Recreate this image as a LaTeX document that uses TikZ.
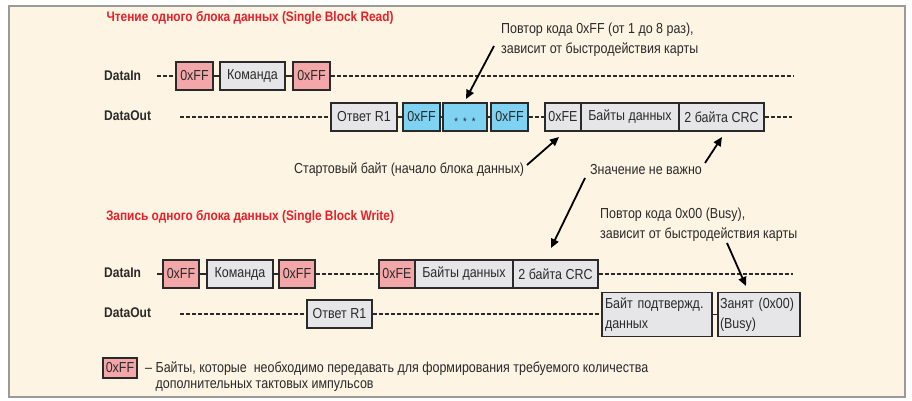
\documentclass[tikz,border=0pt]{standalone}
\usepackage{fontspec}
\setmainfont{Liberation Sans}[FakeStretch=0.86]
\usetikzlibrary{arrows.meta}
\definecolor{cream}{HTML}{FDF4E3}
\definecolor{framegray}{HTML}{9A9A9A}
\definecolor{pinkbox}{HTML}{F4A7A8}
\definecolor{graybox}{HTML}{E6E6E8}
\definecolor{bluebox}{HTML}{7FD2F2}
\definecolor{boxline}{HTML}{2A2A2A}
\definecolor{txt}{HTML}{2A2A2A}
\definecolor{titlered}{HTML}{E8202A}
\tikzset{
  bx/.style={draw=boxline, line width=1.8pt, minimum height=28pt, inner sep=0pt, text=txt,
    font=\fontsize{14.5}{16}\selectfont},
  pk/.style={bx, fill=pinkbox},
  gr/.style={bx, fill=graybox},
  bl/.style={bx, fill=bluebox},
  dl/.style={draw=boxline, line width=1.5pt, dash pattern=on 3.8pt off 2.2pt},
  sl/.style={draw=boxline, line width=1.5pt},
  lbl/.style={anchor=west, text=txt, font=\bfseries\fontsize{14}{16}\selectfont, inner sep=0pt},
  ttl/.style={text=titlered, font=\bfseries\fontsize{13.8}{16}\selectfont, inner sep=0pt},
  note/.style={text=txt, font=\fontsize{14.5}{20}\selectfont, inner sep=0pt, align=left},
  arr/.style={draw=black, line width=1.8pt, -{Triangle[length=9pt,width=8pt]}},
}
\begin{document}
\begin{tikzpicture}[x=1pt,y=-1pt]
\useasboundingbox (0,0) rectangle (912,401);
\fill[white] (0,0) rectangle (912,401);
\draw[framegray, line width=2pt, fill=cream] (9,6) rectangle (905,397);

% titles
\node[ttl] (t1) at (250,18) {Чтение одного блока данных (Single Block Read)};
\node[ttl] (t2) at (250,217) {Запись одного блока данных (Single Block Write)};

% ---------- Read ----------
\node[lbl] (l1) at (104,76) {DataIn};
\node[lbl] (l2) at (104,116) {DataOut};

\coordinate (s1) at (157,76);
\node[pk, minimum width=37pt] (r1a) at (194.5,76) {0xFF};
\node[gr, minimum width=65pt] (r1b) at (252.5,76) {Команда};
\node[pk, minimum width=37pt] (r1c) at (311.5,76) {0xFF};
\coordinate (e1) at (793,76);
\draw[dl] (s1) -- (r1a.west);
\draw[sl] (r1a.east) -- (r1b.west);
\draw[sl] (r1b.east) -- (r1c.west);
\draw[dl] (r1c.east) -- (e1);

\coordinate (s2) at (180,117);
\node[gr, minimum width=66pt] (o1) at (364,117) {Ответ R1};
\node[bl, minimum width=44pt, minimum height=28pt] (o3) at (465,117) {};
\node[text=txt, inner sep=0pt, font=\fontsize{11}{11}\selectfont] (o3s) at (465,122) {*\hspace{5pt}*\hspace{5pt}*};
\node[bl, minimum width=37pt] (o2) at (421.5,117) {0xFF};
\node[bl, minimum width=37pt] (o4) at (509.5,117) {0xFF};
\node[gr, minimum width=36pt] (o5) at (563,117) {0xFE};
\node[gr, minimum width=98pt] (o6) at (630,117) {Байты данных};
\node[gr, minimum width=85pt] (o7) at (721.5,117) {2 байта CRC};
\coordinate (e2) at (792,117);
\draw[dl] (s2) -- (o1.west);
\draw[sl] (o1.east) -- (o2.west);
\draw[sl] (o2.east) -- (o3.west);
\draw[sl] (o3.east) -- (o4.west);
\draw[dl] (o4.east) -- (o5.west);
\draw[dl] (o7.east) -- (e2);

% notes (read)
\node[note, anchor=west] (n1) at (501,40) {Повтор кода 0xFF (от 1 до 8 раз),\\зависит от быстродействия карты};
\node[note, anchor=west] (n2) at (294,170) {Стартовый байт (начало блока данных)};
\node[note, anchor=west] (n3) at (590,170) {Значение не важно};
\coordinate (a1s) at (494,46);  \coordinate (a1e) at (466,99);
\coordinate (a2s) at (527,165); \coordinate (a2e) at (559,137);
\coordinate (a3s) at (705,163); \coordinate (a3e) at (722,137);
\coordinate (a4s) at (585,178); \coordinate (a4e) at (551,248);
\draw[arr] (a1s) -- (a1e);
\draw[arr] (a2s) -- (a2e);
\draw[arr] (a3s) -- (a3e);
\draw[arr] (a4s) -- (a4e);

% ---------- Write ----------
\node[lbl] (l3) at (104,273) {DataIn};
\node[lbl] (l4) at (104,313) {DataOut};

\coordinate (s3) at (157,274);
\node[pk, minimum width=36pt] (w1) at (181,274) {0xFF};
\node[gr, minimum width=66pt] (w2) at (240,274) {Команда};
\node[pk, minimum width=36pt] (w3) at (297,274) {0xFF};
\node[pk, minimum width=36pt] (w4) at (397,274) {0xFE};
\node[gr, minimum width=98pt] (w5) at (464,274) {Байты данных};
\node[gr, minimum width=85pt] (w6) at (555.5,274) {2 байта CRC};
\coordinate (e3) at (793,274);
\draw[sl] (s3) -- (w1.west);
\draw[sl] (w1.east) -- (w2.west);
\draw[sl] (w2.east) -- (w3.west);
\draw[dl] (w3.east) -- (w4.west);
\draw[dl] (w6.east) -- (e3);

\coordinate (s4) at (180,314);
\node[gr, minimum width=65pt] (v1) at (339.5,314) {Ответ R1};
\node[gr, minimum width=110pt, minimum height=44pt, align=left, text width=104pt, font=\fontsize{14.5}{20}\selectfont] (v2) at (657,314.5) {Байт подтвержд.\\данных};
\node[gr, minimum width=82pt, minimum height=44pt, align=left, text width=78pt, font=\fontsize{14.5}{20}\selectfont] (v3) at (759,314.5) {Занят (0x00)\\(Busy)};
\draw[dl] (s4) -- (v1.west);
\draw[dl] (v1.east) -- (v1.east -| v2.west);
\draw[sl] (v2.east) -- (v3.west);

\node[note, anchor=west] (n4) at (600,225) {Повтор кода 0x00 (Busy),\\зависит от быстродействия карты};
\coordinate (a5s) at (727,243); \coordinate (a5e) at (746,286);
\draw[arr] (a5s) -- (a5e);

% legend
\node[pk, minimum width=34pt, minimum height=20pt] (lg) at (120,368) {0xFF};
\node[note, anchor=north west, font=\fontsize{14.5}{16}\selectfont] (lt) at (145,362) {– Байты, которые\ \ необходимо передавать для формирования требуемого количества\\\phantom{– }дополнительных тактовых импульсов};
\end{tikzpicture}
\end{document}
